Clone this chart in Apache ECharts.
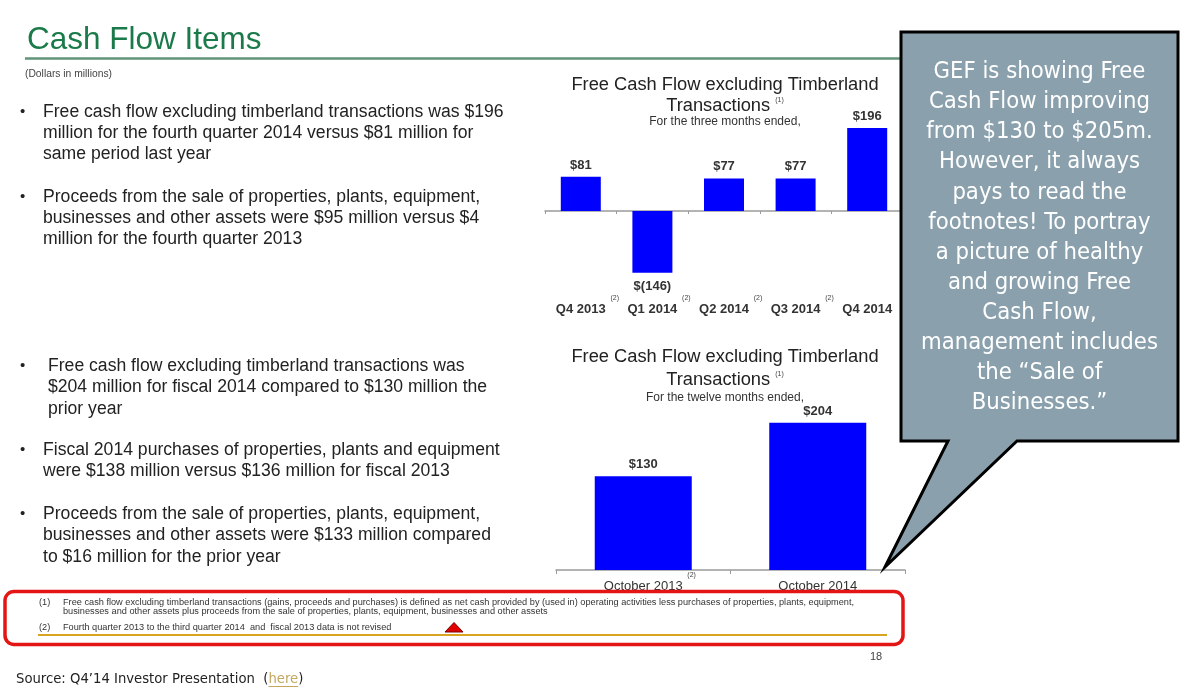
<!DOCTYPE html>
<html>
<head>
<meta charset="utf-8">
<script src="https://cdn.jsdelivr.net/npm/echarts@6/dist/echarts.min.js"></script>
<style>
html,body{margin:0;padding:0;background:#fff;}
#chart{width:1186px;height:694px;}
</style>
</head>
<body>
<div id="chart"></div>
<script>
// ---- Data ----
const quarterCats = ['Q4 2013', 'Q1 2014', 'Q2 2014', 'Q3 2014', 'Q4 2014'];
const quarterNotes = ['(2)', '(2)', '(2)', '(2)', ''];
const quarterFCF = [81, -146, 77, 77, 196];
const annualCats = ['October 2013', 'October 2014'];
const annualNotes = ['(2)', ''];
const annualFCF = [130, 204];

const chartTitle1 = 'Free Cash Flow excluding Timberland';
const chartTitle2 = 'Transactions';
const quarterSubtitle = 'For the three months ended,';
const annualSubtitle = 'For the twelve months ended,';

const bulletsTop = [
  ['Free cash flow excluding timberland transactions was $196', 'million for the fourth quarter 2014 versus $81 million for', 'same period last year'],
  ['Proceeds from the sale of properties, plants, equipment,', 'businesses and other assets were $95 million versus $4', 'million for the fourth quarter 2013']
];
const bulletsBottom = [
  ['Free cash flow excluding timberland transactions was', '$204 million for fiscal 2014 compared to $130 million the', 'prior year'],
  ['Fiscal 2014 purchases of properties, plants and equipment', 'were $138 million versus $136 million for fiscal 2013'],
  ['Proceeds from the sale of properties, plants, equipment,', 'businesses and other assets were $133 million compared', 'to $16 million for the prior year']
];
const footnote1 = ['Free cash flow excluding timberland transactions (gains, proceeds and purchases) is defined as net cash provided by (used in) operating activities less purchases of properties, plants, equipment,', 'businesses and other assets plus proceeds from the sale of properties, plants, equipment, businesses and other assets'];
const footnote2 = 'Fourth quarter 2013 to the third quarter 2014  and  fiscal 2013 data is not revised';
const calloutLines = ['GEF is showing Free', 'Cash Flow improving', 'from $130 to $205m.', 'However, it always', 'pays to read the', 'footnotes! To portray', 'a picture of healthy', 'and growing Free', 'Cash Flow,', 'management includes', 'the \u201cSale of', 'Businesses.\u201d'];
const sourcePrefix = 'Source: Q4\u201914 Investor Presentation  (';
const sourceLink = 'here';

// ---- Styles ----
const ARIAL = '"Liberation Sans", Arial, sans-serif';
const TAHOMA = '"DejaVu Sans Condensed", "DejaVu Sans", Verdana, sans-serif';
const BLUE = '#0000ff';
const TXT = '#222222';

function money(v) { return v < 0 ? '$(' + (-v) + ')' : '$' + v; }

function barData(vals, neg) {
  return vals.map(v => ({
    value: v,
    label: v < 0 ? { position: 'bottom', distance: neg } : { position: 'top' }
  }));
}

function catLabel(notes) {
  return function (value, idx) {
    return '{pad| }{m|' + value + '}{g| }{s|' + (notes[idx] || ' ') + '}';
  };
}
function catRich(weight) {
  return {
    pad: { width: 13.5, fontSize: 7, lineHeight: 7, verticalAlign: 'top' },
    m: { fontSize: 13, fontWeight: weight, fontFamily: ARIAL, color: '#333', lineHeight: 13, padding: [8, 0, 0, 0], verticalAlign: 'top' },
    g: { width: 4.5, fontSize: 7, lineHeight: 7, verticalAlign: 'top' },
    s: { fontSize: 7, fontFamily: ARIAL, color: '#444', width: 9, align: 'left', lineHeight: 7, verticalAlign: 'top' }
  };
}

function text(t, x, y, o) {
  o = o || {};
  return {
    type: 'text', x: x, y: y, z: o.z || 50, silent: true,
    style: Object.assign({
      text: t, fill: o.fill || TXT,
      fontSize: o.size || 16, fontFamily: o.family || ARIAL, fontWeight: o.weight || 'normal',
      align: o.align || 'left', verticalAlign: o.va || 'middle',
      textAlign: o.align || 'left', textVerticalAlign: o.va || 'middle',
      lineHeight: o.lh, rich: o.rich
    })
  };
}

const graphics = [];
// Title
graphics.push(text('Cash Flow Items', 27, 40, { size: 31.5, fill: '#1b7a4a' }));
graphics.push({ type: 'line', z: 40, silent: true, shape: { x1: 25, y1: 58.5, x2: 1160, y2: 58.5 }, style: { stroke: '#5f9479', lineWidth: 2.5 } });
graphics.push(text('(Dollars in millions)', 25, 74, { size: 10.3, fill: '#444' }));

// Bullets
const BULLET_SIZE = 17.6;
function addBullets(list, tops, xs, lh) {
  list.forEach((lines, i) => {
    graphics.push(text('\u2022', 20, tops[i] + lh / 2, { size: 15 }));
    graphics.push(text(lines.join('\n'), xs[i], tops[i], { va: 'top', lh: lh, size: BULLET_SIZE }));
  });
}
addBullets(bulletsTop, [101.5, 186.5], [43, 43], 21);
addBullets(bulletsBottom, [355.3, 439, 503.2], [48, 43, 43], 21.5);

// Chart titles
const supRich = { s: { fontSize: 7, fontFamily: ARIAL, fill: '#444', color: '#444', verticalAlign: 'top', lineHeight: 7, padding: [0, 0, 10, 0] } };
graphics.push(text(chartTitle1, 725, 85, { size: 18.3, fill: '#222', align: 'center' }));
graphics.push(text(chartTitle2 + ' {s|(1)}', 725, 106, { size: 18.3, fill: '#222', align: 'center', rich: supRich }));
graphics.push(text(quarterSubtitle, 725, 122, { size: 12, fill: '#333', align: 'center' }));
graphics.push(text(chartTitle1, 725, 357, { size: 18.3, fill: '#222', align: 'center' }));
graphics.push(text(chartTitle2 + ' {s|(1)}', 725, 380, { size: 18.3, fill: '#222', align: 'center', rich: supRich }));
graphics.push(text(annualSubtitle, 725, 398, { size: 12, fill: '#333', align: 'center' }));

// Footnote box
const FN = 9.2;
graphics.push({ type: 'rect', z: 100, silent: true, shape: { x: 5, y: 591.5, width: 898, height: 53, r: 9 }, style: { fill: '#fff', stroke: '#e31515', lineWidth: 3.5 } });
graphics.push(text('(1)', 39, 602, { size: FN, fill: '#333', z: 110 }));
graphics.push(text(footnote1.join('\n'), 63, 597.2, { size: FN, fill: '#333', va: 'top', lh: 9.6, z: 110 }));
graphics.push(text('(2)', 39, 627.5, { size: FN, fill: '#333', z: 110 }));
graphics.push(text(footnote2, 63, 627.5, { size: FN, fill: '#333', z: 110 }));
graphics.push({ type: 'line', z: 110, silent: true, shape: { x1: 38, y1: 635, x2: 887, y2: 635 }, style: { stroke: '#d9a520', lineWidth: 2 } });
graphics.push({ type: 'polygon', z: 111, silent: true, shape: { points: [[445, 632], [454, 622.5], [463, 632]] }, style: { fill: '#e00000', stroke: '#700', lineWidth: 1 } });
graphics.push(text('18', 870, 657, { size: 11, fill: '#444' }));

// Source line
const SRC = 14.7;
const mctx = document.createElement('canvas').getContext('2d');
mctx.font = SRC + 'px ' + TAHOMA;
const preW = mctx.measureText(sourcePrefix).width;
const linkW = mctx.measureText(sourceLink).width;
graphics.push(text(sourcePrefix + '{h|' + sourceLink + '}' + ')', 16, 679, {
  size: SRC, family: TAHOMA, fill: '#222',
  rich: { h: { fontSize: SRC, fontFamily: TAHOMA, fill: '#c4a862', color: '#c4a862' } }
}));
graphics.push({ type: 'line', z: 50, silent: true, shape: { x1: 16 + preW, y1: 686.5, x2: 16 + preW + linkW, y2: 686.5 }, style: { stroke: '#c4a862', lineWidth: 1 } });

// Callout
graphics.push({
  type: 'polygon', z: 120, silent: true,
  shape: { points: [[901, 32], [1178, 32], [1178, 441], [1017, 441], [885, 567], [948, 441], [901, 441]] },
  style: { fill: '#8aa1ad', stroke: '#000', lineWidth: 3, lineJoin: 'miter' }
});
graphics.push(text(calloutLines.join('\n'), 1039.5, 57, { size: 23.6, family: TAHOMA, fill: '#fff', align: 'center', va: 'top', lh: 30.1, z: 130 }));

const option = {
  backgroundColor: '#fff',
  animation: false,
  grid: [
    { left: 545, width: 358, top: 126.3, height: 148.2 },
    { left: 556, width: 349, top: 389.5, height: 180.5 }
  ],
  xAxis: [
    { gridIndex: 0, type: 'category', data: quarterCats,
      axisLine: { onZero: true, lineStyle: { color: '#9a9a9a', width: 1.5 } },
      axisTick: { show: true, length: 3, lineStyle: { color: '#9a9a9a' } },
      axisLabel: { show: false } },
    { gridIndex: 0, type: 'category', data: quarterCats, position: 'bottom',
      axisLine: { show: false, onZero: false }, axisTick: { show: false },
      axisLabel: { show: true, margin: 20, interval: 0, formatter: catLabel(quarterNotes), rich: catRich('bold') } },
    { gridIndex: 1, type: 'category', data: annualCats,
      axisLine: { lineStyle: { color: '#9a9a9a', width: 1.5 } },
      axisTick: { show: true, length: 4, lineStyle: { color: '#9a9a9a' } },
      axisLabel: { show: true, margin: 2, interval: 0, formatter: catLabel(annualNotes), rich: catRich('normal') } }
  ],
  yAxis: [
    { gridIndex: 0, type: 'value', min: -150, max: 200, show: false, splitLine: { show: false } },
    { gridIndex: 1, type: 'value', min: 0, max: 250, show: false, splitLine: { show: false } }
  ],
  series: [
    { type: 'bar', xAxisIndex: 0, yAxisIndex: 0, barWidth: 40, data: barData(quarterFCF, 7),
      itemStyle: { color: BLUE },
      label: { show: true, distance: 5, color: '#333', fontSize: 13, fontWeight: 'bold', fontFamily: ARIAL, formatter: p => money(p.value) } },
    { type: 'bar', xAxisIndex: 2, yAxisIndex: 1, barWidth: 97, data: barData(annualFCF, 7),
      itemStyle: { color: BLUE },
      label: { show: true, position: 'top', distance: 5, color: '#333', fontSize: 13, fontWeight: 'bold', fontFamily: ARIAL, formatter: p => money(p.value) } }
  ],
  graphic: { elements: graphics }
};

const chart = echarts.init(document.getElementById('chart'), null, { renderer: 'canvas' });
chart.setOption(option);
</script>
</body>
</html>
